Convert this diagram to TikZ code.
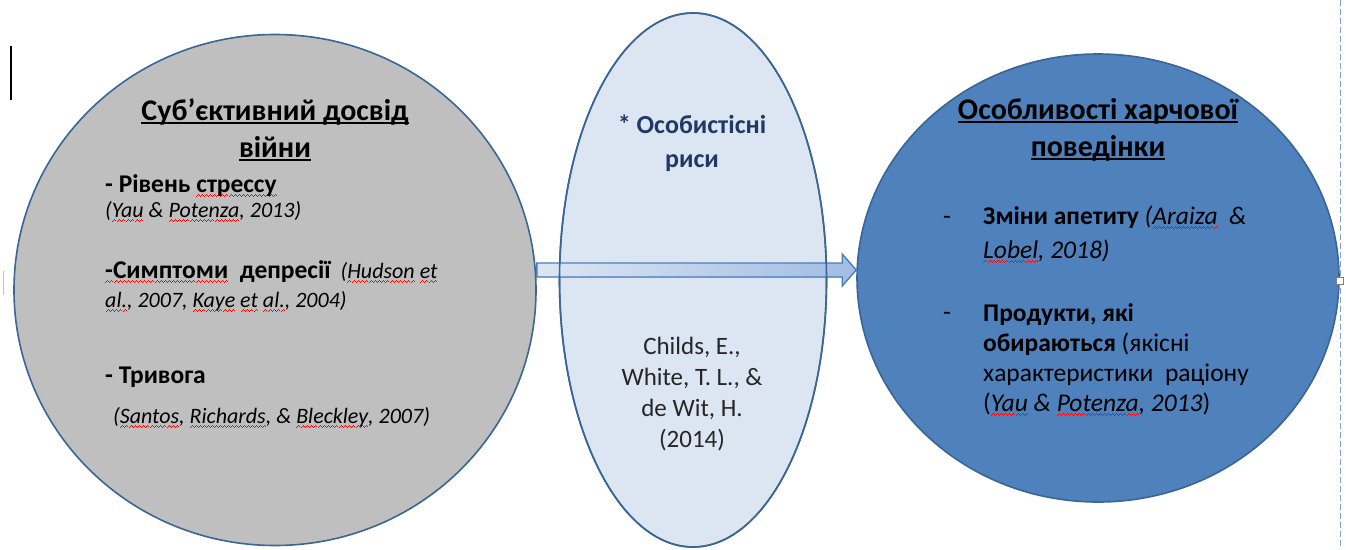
\documentclass[tikz,border=0pt]{standalone}
\usepackage{fontspec}
\setmainfont{Carlito}
\usepackage{xcolor}
\usetikzlibrary{
  calc,
  positioning,
  shapes.geometric,
  arrows.meta
}

\definecolor{warGray}{HTML}{BFBFBF}
\definecolor{edgeBlue}{HTML}{3A6595}
\definecolor{traitFill}{HTML}{DCE6F2}
\definecolor{eatFill}{HTML}{4F81BD}
\definecolor{arrowLight}{HTML}{DCE6F2}
\definecolor{arrowDark}{HTML}{A1BCE3}
\definecolor{arrowEdge}{HTML}{4A7EBB}
\definecolor{traitNavy}{HTML}{1F3864}
\definecolor{guideBlue}{HTML}{7F9FCF}

% underline of a title line
\newcommand\titleline[1]{\setbox0\hbox{#1}\rlap{\rule[-3.5pt]{\wd0}{1.6pt}}\box0\relax}
% red spell-check wave under a word
\newcommand\wavecell{\hbox{{\color{red}\rule[-4.6pt]{1pt}{1pt}\rule[-3.8pt]{1pt}{1pt}%
  \rule[-3pt]{1pt}{1pt}\rule[-3.8pt]{1pt}{1pt}}}}
\newcommand\spell[1]{\setbox0\hbox{#1}\rlap{\hbox to\wd0{\xleaders\wavecell\hfill}}\box0\relax}
% bold heading words in the left bubble
\newcommand\headword[1]{{\fontsize{25.5}{29}\selectfont\bfseries #1}}

\begin{document}
\begin{tikzpicture}[x=1pt,y=-1pt]
  \tikzset{
    bubble/.style={ellipse,draw=edgeBlue,line width=1.6pt,inner sep=0pt},
    title/.style={inner sep=0pt,align=center,anchor=base,
      font=\fontsize{30}{37}\selectfont\bfseries},
    body/.style={inner sep=0pt,align=left,anchor=base west,
      font=\fontsize{22}{#1}\selectfont},
    body/.default=28,
    rbody/.style={inner sep=0pt,align=left,anchor=base west,
      font=\fontsize{25.5}{#1}\selectfont},
    rbody/.default=30,
    guide/.style={draw=guideBlue,line width=1pt,dash pattern=on 6pt off 3pt},
  }
  \useasboundingbox (0,0) rectangle (1346,549);

  % the three bubbles
  \node[bubble,fill=warGray,minimum width=522pt,minimum height=511pt] (war) at (275,290) {};
  \node[bubble,fill=traitFill,minimum width=267pt,minimum height=534pt] (traits) at (693,280) {};
  \node[bubble,fill=eatFill,minimum width=482pt,minimum height=448pt] (eating) at (1098,278) {};

  % block arrow through the middle bubble
  \coordinate (tip) at (eating.west |- 0,270);
  \coordinate (tail) at (war.east |- tip);
  \filldraw[left color=arrowLight,right color=arrowDark,draw=arrowEdge,line width=1.4pt]
    ($(tail)+(0,-7)$) -- ($(tip)+(-14,-7)$) -- ($(tip)+(-14,-16)$) -- (tip)
    -- ($(tip)+(-14,16)$) -- ($(tip)+(-14,7)$) -- ($(tail)+(0,7)$) -- cycle;
  \draw[edgeBlue,line width=1.6pt] (traits.center) ellipse [x radius=133.5,y radius=267];

  % left bubble (anchors sit on the last line)
  \node[title] (warTitle) at (275,157) {\titleline{Суб’єктивний досвід}\\\titleline{війни}};
  \node[body=25] (stress) at (105,217)
    {\headword{- Рівень \spell{стрессу}}\\\textit{(\spell{Yau} \& \spell{Potenza}, 2013)}};
  \node[body=29] (depression) at (105,307)
    {\headword{\spell{-Симптоми}~ депресії}~ \textit{(\spell{Hudson} \spell{et}}\\
     \textit{\spell{al.}, 2007, \spell{Kaye} \spell{et} \spell{al.}, 2004)}};
  \node[body] (anxiety) at (105,383) {\headword{- Тривога}};
  \node[body] (anxietyRef) at (113,423)
    {\textit{(\spell{Santos}, \spell{Richards}, \& \spell{Bleckley}, 2007)}};

  % middle bubble
  \node[inner sep=0pt,align=center,anchor=base,text=traitNavy,
    font=\fontsize{26}{34}\selectfont\bfseries] (traitTitle) at (692,167) {* Особистісні\\риси};
  \node[inner sep=0pt,align=center,anchor=base,text=black!85,
    font=\fontsize{25}{31}\selectfont] (childs) at (692,447)
    {Childs, E.,\\White, T. L., \&\\de Wit, H.\\(2014)};

  % right bubble
  \node[title] (eatTitle) at (1098,156) {\titleline{Особливості харчової}\\\titleline{поведінки}};
  \node[rbody] (dashA) at (943,224) {-};
  \node[rbody=34] (appetite) at (983,258)
    {\textbf{Зміни апетиту} \textit{(\spell{Araiza}~ \&}\\\textit{\spell{Lobel}, 2018)}};
  \node[rbody] (dashB) at (943,320) {-};
  \node[rbody=30] (products) at (983,411)
    {\textbf{Продукти, які}\\\textbf{обираються} (якісні\\характеристики~ раціону\\
     (\textit{\spell{Yau} \& \spell{Potenza}, 2013})};

  % page marks
  \draw[guide] (1340,0) -- (1340,549);
  \node[draw=gray,fill=white,minimum size=7pt,inner sep=0pt] (handle) at (1340,281) {};
  \draw[line width=2pt] (11,46) -- (11,100);
  \draw[guideBlue!60,line width=1pt] (3,271) -- (3,295);
\end{tikzpicture}
\end{document}
